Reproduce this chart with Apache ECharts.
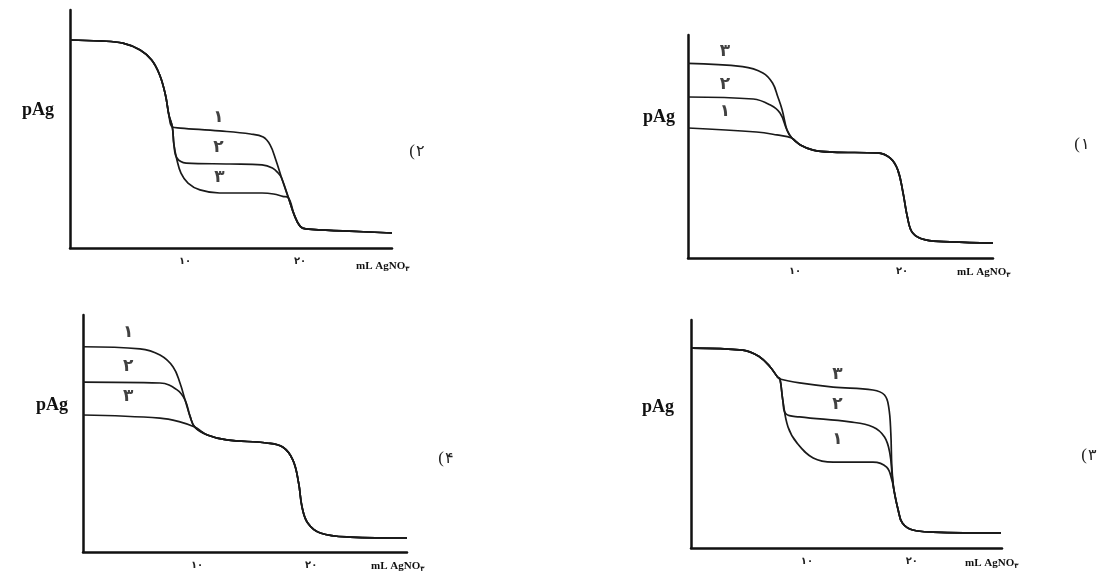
<!DOCTYPE html>
<html>
<head>
    <meta charset="UTF-8">
    <title>pAg</title>
    <script src="https://cdn.jsdelivr.net/npm/echarts@6/dist/echarts.min.js"></script>
</head>
<body style="margin:0;background:#fff;">
    <div id="main" style="width:1099px;height:579px;"></div>
    <script type="text/javascript">
        // محور x: حجم AgNO3 (mL) ، محور y: pAg
        var tickValues = [10, 20];
        var tickLabels = ['۱۰', '۲۰'];
        var curveNames = ['۱', '۲', '۳'];

        // نمودار (۲) بالا چپ
        var p2Shared = [[0, 8.74], [2.6, 8.70], [4.6, 8.61], [6.1, 8.32], [7.1, 7.90], [7.8, 7.27], [8.3, 6.43], [8.6, 5.59], [8.9, 5.08]];
        var p2Curve1 = [[9.6, 5.04], [13.0, 4.92], [15.7, 4.79], [16.8, 4.66], [17.4, 4.33], [17.9, 3.70], [18.4, 2.94], [19.0, 2.10]];
        var p2Curve2 = [[9.04, 4.33], [9.3, 3.78], [10.1, 3.57], [13.9, 3.53], [16.7, 3.49], [17.6, 3.36], [18.1, 3.15], [18.4, 2.94], [19.0, 2.10]];
        var p2Curve3 = [[9.04, 4.33], [9.3, 3.70], [9.65, 3.15], [10.26, 2.73], [11.3, 2.44], [13.0, 2.31], [16.7, 2.31], [17.7, 2.27], [18.5, 2.17], [19.0, 2.10]];
        var p2Tail = [[19.5, 1.39], [20.0, 0.92], [20.5, 0.80], [24.3, 0.71], [28, 0.63]];
        var p2Labels = [[12.9, 5.50], [12.9, 4.20], [13.0, 2.94]];

        // نمودار (۱) بالا راست
        var p1Curve3 = [[0, 8.73], [5.1, 8.58], [7.0, 8.30], [7.9, 7.85], [8.4, 7.22], [8.8, 6.64], [9.25, 5.74]];
        var p1Curve2 = [[0, 7.22], [6.1, 7.13], [7.7, 6.86], [8.6, 6.50], [9.25, 5.74]];
        var p1Curve1 = [[0, 5.83], [6.4, 5.65], [8.3, 5.52]];
        var p1Tail = [[9.7, 5.38], [10.5, 5.07], [11.7, 4.84], [13.5, 4.75], [17.7, 4.71], [18.9, 4.48], [19.6, 3.95], [20.1, 2.91], [20.5, 1.84], [21.0, 1.12], [22.2, 0.81], [24.5, 0.72], [28.5, 0.67]];
        var p1Labels = [[3.46, 6.55], [3.46, 7.76], [3.46, 9.24]];

        // نمودار (۴) پایین چپ
        var p4Curve1 = [[0, 8.66], [5.0, 8.57], [6.75, 8.31], [7.9, 7.81], [8.5, 7.13], [8.95, 6.41], [9.4, 5.70]];
        var p4Curve2 = [[0, 7.17], [6.75, 7.13], [8.25, 6.84], [8.95, 6.41], [9.4, 5.70]];
        var p4Curve3 = [[0, 5.78], [6.75, 5.65], [8.5, 5.49]];
        var p4Tail = [[9.8, 5.27], [10.9, 4.94], [12.6, 4.73], [16.1, 4.60], [17.5, 4.43], [18.4, 3.88], [18.9, 2.91], [19.2, 1.90], [19.7, 1.22], [20.8, 0.80], [23.4, 0.63], [28.4, 0.59]];
        var p4Labels = [[3.95, 9.24], [3.95, 7.81], [3.95, 6.54]];

        // نمودار (۳) پایین راست
        var p3Shared = [[-0.95, 8.77], [3.9, 8.68], [5.5, 8.38], [6.5, 7.94], [7.2, 7.50], [7.43, 7.41]];
        var p3Curve1 = [[7.7, 6.49], [8.2, 5.31], [9.05, 4.61], [10.6, 3.95], [12.5, 3.77], [16.3, 3.77], [17.6, 3.55], [18.1, 2.98]];
        var p3Curve2 = [[7.7, 6.49], [8.0, 5.88], [9.3, 5.75], [14.1, 5.53], [16.3, 5.31], [17.4, 4.87], [17.9, 4.17], [18.15, 3.07]];
        var p3Curve3 = [[9.3, 7.24], [12.5, 7.06], [16.3, 6.93], [17.4, 6.71], [17.8, 6.18], [18.0, 5.04], [18.1, 3.55]];
        var p3Tail = [[18.3, 2.54], [18.7, 1.67], [19.1, 1.10], [20.1, 0.79], [22.0, 0.70], [28.5, 0.66]];
        var p3Labels = [[12.9, 4.74], [12.9, 6.27], [12.9, 7.59]];

        var panels = [
            { grid: { left: 70, top: 10, width: 322, height: 238 }, xMin: 0, xMax: 28,
              curves: [p2Shared.concat(p2Curve1, p2Tail), p2Shared.concat(p2Curve2, p2Tail), p2Shared.concat(p2Curve3, p2Tail)],
              labels: p2Labels, tag: '۲', tagPos: [418, 152], yName: [38, 110], xName: [356, 266] },
            { grid: { left: 688, top: 35, width: 305, height: 223 }, xMin: 0, xMax: 28.5,
              curves: [p1Curve1.concat(p1Tail), p1Curve2.concat(p1Tail), p1Curve3.concat(p1Tail)],
              labels: p1Labels, tag: '۱', tagPos: [1083, 145], yName: [659, 117], xName: [957, 272] },
            { grid: { left: 83, top: 315, width: 324, height: 237 }, xMin: 0, xMax: 28.4,
              curves: [p4Curve1.concat(p4Tail), p4Curve2.concat(p4Tail), p4Curve3.concat(p4Tail)],
              labels: p4Labels, tag: '۴', tagPos: [447, 459], yName: [52, 405], xName: [371, 566] },
            { grid: { left: 691, top: 320, width: 311, height: 228 }, xMin: -1.05, xMax: 28.6,
              curves: [p3Shared.concat(p3Curve1, p3Tail), p3Shared.concat(p3Curve2, p3Tail), p3Shared.concat(p3Curve3, p3Tail)],
              labels: p3Labels, tag: '۳', tagPos: [1090, 456], yName: [658, 407], xName: [965, 563] }
        ];

        var serif = '"Liberation Serif", "DejaVu Serif", serif';
        var grids = [], xAxes = [], yAxes = [], series = [], graphics = [];

        panels.forEach(function (p, i) {
            grids.push(p.grid);
            xAxes.push({
                type: 'value', gridIndex: i, min: p.xMin, max: p.xMax,
                splitLine: { show: false }, axisTick: { show: false },
                axisLine: { onZero: false, lineStyle: { color: '#111', width: 2.5 } },
                axisLabel: {
                    customValues: tickValues, margin: 8, fontSize: 10, fontWeight: 'bold', color: '#222',
                    fontFamily: '"DejaVu Sans", sans-serif',
                    formatter: function (v) { return tickLabels[tickValues.indexOf(v)] || ''; }
                }
            });
            yAxes.push({
                type: 'value', gridIndex: i, min: 0, max: 10,
                splitLine: { show: false }, axisTick: { show: false }, axisLabel: { show: false },
                axisLine: { show: true, onZero: false, lineStyle: { color: '#111', width: 2.5 } }
            });
            p.curves.forEach(function (c) {
                series.push({
                    type: 'line', xAxisIndex: i, yAxisIndex: i, data: c,
                    smooth: 0.4, symbol: 'none',
                    lineStyle: { color: '#1a1a1a', width: 1.7 }
                });
            });
            series.push({
                type: 'scatter', xAxisIndex: i, yAxisIndex: i, symbolSize: 0,
                data: p.labels.map(function (l, k) { return [l[0], l[1], curveNames[k]]; }),
                label: {
                    show: true, position: 'inside', color: '#111', fontSize: 17, fontWeight: 'bold',
                    fontFamily: '"DejaVu Sans", sans-serif',
                    formatter: function (q) { return q.value[2]; }
                }
            });
            graphics.push({
                type: 'text', x: p.yName[0], y: p.yName[1],
                style: { text: 'pAg', fill: '#111', font: 'bold 18px ' + serif, align: 'center', verticalAlign: 'middle' }
            });
            // پرانتز و شماره جدا کشیده می شوند تا جهت متن به هم نریزد
            graphics.push({
                type: 'text', x: p.tagPos[0] - 3, y: p.tagPos[1],
                style: { text: '(', fill: '#222', font: '17px ' + serif, align: 'right', verticalAlign: 'middle' }
            });
            graphics.push({
                type: 'text', x: p.tagPos[0] - 2, y: p.tagPos[1],
                style: { text: p.tag, fill: '#222', font: '16px "DejaVu Sans", sans-serif', align: 'left', verticalAlign: 'middle' }
            });
            graphics.push({
                type: 'text', x: p.xName[0], y: p.xName[1],
                style: {
                    text: 'mL AgNO{s|۳}', fill: '#111', font: 'bold 11px ' + serif, verticalAlign: 'middle',
                    rich: { s: { fontSize: 7, fontWeight: 'bold', fontFamily: '"DejaVu Sans", sans-serif', padding: [6, 0, 0, 0] } }
                }
            });
        });

        var myChart = echarts.init(document.getElementById('main'));
        myChart.setOption({
            animation: false,
            backgroundColor: '#fff',
            grid: grids,
            xAxis: xAxes,
            yAxis: yAxes,
            series: series,
            graphic: graphics
        });
    </script>
</body>
</html>
